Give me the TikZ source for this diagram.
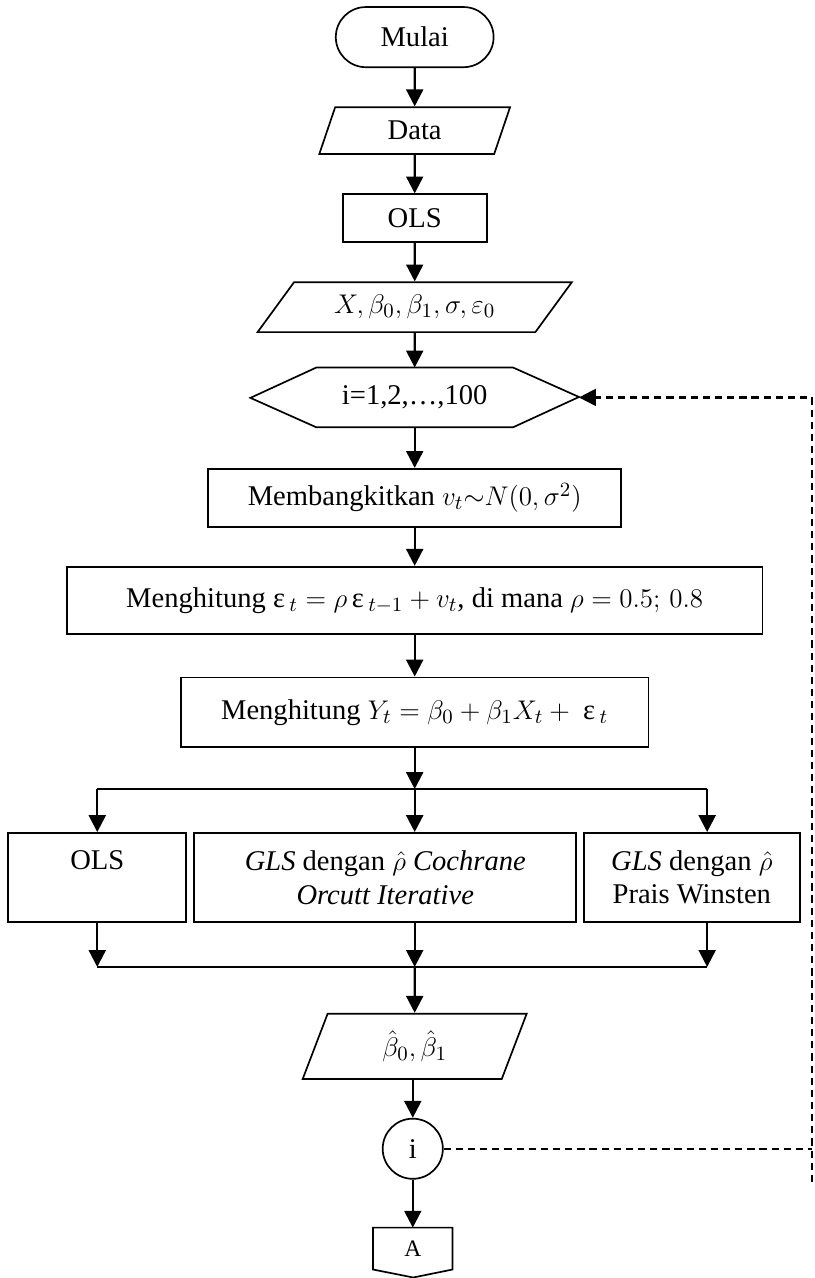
\documentclass[tikz,border=0pt]{standalone}
\usepackage{fontspec}
\setmainfont{Liberation Serif}
\usetikzlibrary{arrows.meta,shapes.geometric,shapes.misc}

\begin{document}
\begin{tikzpicture}[>={Triangle[length=7.5pt,width=7.5pt]},
  font=\fontsize{12.7}{15}\selectfont,
  box/.style={draw, line width=0.75pt, rectangle, align=center, inner sep=2pt},
  io/.style={draw, line width=0.75pt, trapezium, trapezium stretches body, align=center, inner sep=1pt},
  flow/.style={->, line width=1.05pt},
  loopback/.style={line width=1pt, dash pattern=on 3.2pt off 2.2pt}]
\useasboundingbox (0,0) rectangle (12.72,-19.97);

\node[draw, line width=0.75pt, rounded rectangle, minimum width=2.7cm, minimum height=0.94cm] (start) at (6.48,-0.58) {Mulai};
\node[io, trapezium left angle=56, trapezium right angle=124, minimum width=2.98cm, minimum height=0.73cm] (data) at (6.48,-2.04) {Data};
\node[box, minimum width=2.25cm, minimum height=0.75cm] (ols) at (6.48,-3.41) {OLS};
\node[io, trapezium left angle=38, trapezium right angle=142, minimum width=4.91cm, minimum height=0.78cm] (param) at (6.48,-4.80) {$X,\beta_0,\beta_1,\sigma,\varepsilon_0$};

% loop header
\node[minimum width=3.06cm, minimum height=0.92cm] (loop) at (6.48,-6.21) {i=1,2,…,100};
\draw[line width=0.75pt] (loop.north west) -- (loop.north east) -- ++(1.03,-0.46) -- (loop.south east) -- (loop.south west) -- ++(-1.03,0.46) -- cycle;
\path (loop.east) ++(1.03,0) coordinate (loopin);

\node[box, minimum width=6.45cm, minimum height=0.91cm] (gen) at (6.48,-7.78) {Membangkitkan $v_t{\sim}N(0,\sigma^2)$};
\node[box, minimum width=10.87cm, minimum height=1.05cm] (eps) at (6.48,-9.38) {Menghitung ε$\,{}_t=\rho\,$ε$\,{}_{t-1}+v_t$, di mana $\rho=0.5;\,0.8$};
\node[box, minimum width=7.31cm, minimum height=1.09cm] (resp) at (6.48,-11.13) {Menghitung $Y_t=\beta_0+\beta_1X_t+{}$ ε$\,{}_t$};

\coordinate (split) at (6.48,-12.33);
\coordinate (splitL) at (1.52,-12.33);
\coordinate (splitR) at (11.05,-12.33);

\node[box, minimum width=2.78cm, minimum height=1.39cm] (olsb) at (1.52,-13.71) {OLS\\~};
\node[box, minimum width=5.97cm, minimum height=1.39cm] (co) at (6.02,-13.71) {\textit{GLS} dengan $\hat{\rho}$ \textit{Cochrane}\\\textit{Orcutt Iterative}};
\node[box, minimum width=3.375cm, minimum height=1.39cm] (pw) at (10.81,-13.71) {\textit{GLS} dengan $\hat{\rho}$\\Prais Winsten};

\coordinate (join) at (6.48,-15.11);
\coordinate (joinL) at (1.52,-15.11);
\coordinate (joinR) at (11.05,-15.11);

\node[io, trapezium left angle=55, trapezium right angle=125, minimum width=3.5cm, minimum height=1.02cm] (est) at (6.48,-16.35) {$\hat{\beta}_0,\hat{\beta}_1$};
\node[draw, circle, line width=0.75pt, minimum size=0.94cm, inner sep=0pt] (cnt) at (6.45,-17.95) {i};
\node[minimum width=1.23cm, minimum height=0.64cm, inner sep=0pt, font=\fontsize{10.5}{12}\selectfont] (next) at (6.45,-19.51) {A};
\draw[line width=0.75pt] (next.north west) -- (next.north east) -- (next.south east) -- ++(-0.615,-0.125) -- (next.south west) -- cycle;

\draw[flow] (start) -- (data);
\draw[flow] (data) -- (ols);
\draw[flow] (ols) -- (param);
\draw[flow] (param) -- (loop);
\draw[flow] (loop) -- (gen);
\draw[flow] (gen) -- (eps);
\draw[flow] (eps) -- (resp);
\draw[flow] (resp) -- (split);
\draw[line width=1.05pt] (splitL) -- (splitR);
\draw[flow] (splitL) -- (olsb);
\draw[flow] (split) -- (split |- co.north);
\draw[flow] (splitR) -- (splitR |- pw.north);
\draw[flow] (olsb) -- (joinL);
\draw[flow] (co.south -| join) -- (join);
\draw[flow] (pw.south -| joinR) -- (joinR);
\draw[line width=1.05pt] (joinL) -- (joinR);
\draw[flow] (join) -- (est);
\draw[flow] (est.south -| cnt) -- (cnt);
\draw[flow] (cnt) -- (next);

% back to the loop
\coordinate (back) at (12.69,-18.47);
\draw[loopback] (cnt.east) -- (cnt.east -| back);
\draw[loopback, ->] (back) |- (loopin);
\end{tikzpicture}
\end{document}
